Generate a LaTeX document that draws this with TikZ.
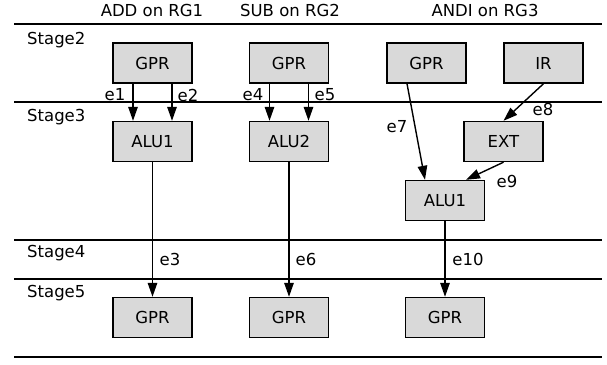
\documentclass[tikz,border=0pt]{standalone}
\usepackage{fontspec}
\setmainfont{DejaVu Sans}
\usetikzlibrary{arrows.meta}
\begin{document}
\begin{tikzpicture}[x=1pt,y=-1pt,
  font=\fontsize{16.5}{19}\selectfont,
  unit/.style={draw, line width=1.4pt, fill=black!15, minimum width=79pt, minimum height=40pt, inner sep=0pt},
  flow/.style={line width=1.4pt, -{Triangle[length=14pt,width=9.5pt]}},
  sep/.style={line width=2.2pt},
  tag/.style={inner sep=0pt},
  stagelbl/.style={anchor=west, inner sep=0pt}]
\useasboundingbox (0,0) rectangle (607,364);
% stage separators
\foreach \yy in {24,102,240,279,357} \draw[sep] (14,\yy) -- (602,\yy);
% column titles
\node[tag] (t1) at (152,10) {ADD on RG1};
\node[tag] (t2) at (290,10) {SUB on RG2};
\node[tag] (t3) at (485,10) {ANDI on RG3};
% stage names
\node[stagelbl] (s2) at (27,40) {Stage2};
\node[stagelbl] (s3) at (27,117) {Stage3};
\node[stagelbl] (s4) at (27,253) {Stage4};
\node[stagelbl] (s5) at (27,293) {Stage5};
% units
\node[unit] (g1) at (152.5,63) {GPR};
\node[unit] (a1) at (152.5,141.5) {ALU1};
\node[unit] (o1) at (152.5,317.5) {GPR};
\node[unit] (g2) at (289,63) {GPR};
\node[unit] (a2) at (289,141.5) {ALU2};
\node[unit] (o2) at (289,317.5) {GPR};
\node[unit] (g3) at (426.5,63) {GPR};
\node[unit] (ir) at (543.5,63) {IR};
\node[unit] (ext) at (503.5,141.5) {EXT};
\node[unit] (a3) at (445,200.5) {ALU1};
\node[unit] (o3) at (445,317.5) {GPR};
% data flow
\draw[flow] ([xshift=-19.5pt]g1.south) -- ([xshift=-19.5pt]a1.north);
\draw[flow] ([xshift=19.5pt]g1.south) -- ([xshift=19.5pt]a1.north);
\draw[flow] (a1) -- (o1);
\draw[flow] ([xshift=-19.5pt]g2.south) -- ([xshift=-19.5pt]a2.north);
\draw[flow] ([xshift=19.5pt]g2.south) -- ([xshift=19.5pt]a2.north);
\draw[flow] (a2) -- (o2);
\draw[flow] ([xshift=-19.5pt]g3.south) -- ([xshift=-20pt]a3.north);
\draw[flow] (ir.south) -- (ext.north);
\draw[flow] (ext.south) -- ([xshift=21pt]a3.north);
\draw[flow] (a3) -- (o3);
% edge labels
\node[tag] (l1) at (115,95) {e1};
\node[tag] (l2) at (188,95) {e2};
\node[tag] (l3) at (170,259) {e3};
\node[tag] (l4) at (253,95) {e4};
\node[tag] (l5) at (325,95) {e5};
\node[tag] (l6) at (306,259) {e6};
\node[tag] (l7) at (397,127) {e7};
\node[tag] (l8) at (543,109) {e8};
\node[tag] (l9) at (507,181) {e9};
\node[tag] (l10) at (468,259) {e10};
\end{tikzpicture}
\end{document}
